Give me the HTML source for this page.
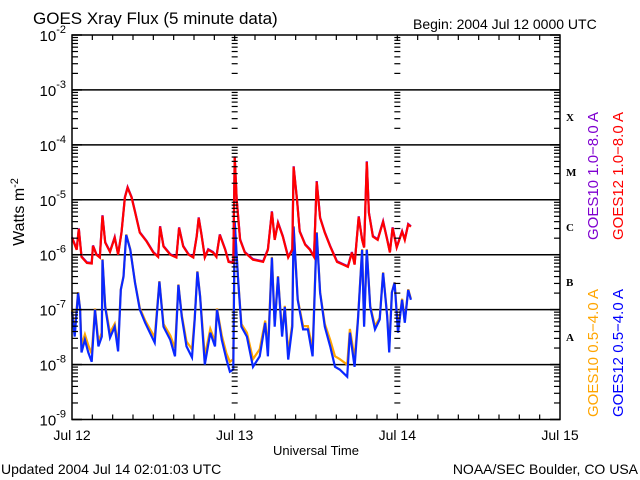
<!DOCTYPE html>
<html><head><meta charset="utf-8"><style>
html,body{margin:0;padding:0;background:#fff;}
svg{display:block;font-family:"Liberation Sans",sans-serif;}
</style></head><body>
<svg id="chart" width="640" height="480" viewBox="0 0 640 480" xmlns="http://www.w3.org/2000/svg">
<rect width="640" height="480" fill="#fff"/>
<text x="33" y="24" font-size="17">GOES Xray Flux (5 minute data)</text>
<text x="413" y="29" font-size="14">Begin:  2004 Jul 12 0000 UTC</text>
<text transform="translate(24,212) rotate(-90)" text-anchor="middle" font-size="16">Watts m<tspan dy="-6" font-size="11">-2</tspan></text>
<text x="316" y="455" text-anchor="middle" font-size="13">Universal Time</text>
<text x="1" y="474" font-size="14">Updated 2004 Jul 14 02:01:03 UTC</text>
<text x="638" y="474" text-anchor="end" font-size="14">NOAA/SEC Boulder, CO USA</text>
<g id="grid"></g>
<g id="series"></g>
<rect x="72" y="35" width="488" height="384.5" fill="none" stroke="#000" stroke-width="1.5"/>
<g id="axes"></g>
<g font-family="Liberation Serif,serif" font-weight="bold" font-size="11">
<text x="566" y="121">X</text>
<text x="566" y="176">M</text>
<text x="566" y="231">C</text>
<text x="566" y="286">B</text>
<text x="566" y="341">A</text>
</g>
<text transform="translate(598,240) rotate(-90)" font-size="15" fill="#7f00d0">GOES10 1.0−8.0 A</text>
<text transform="translate(623,240) rotate(-90)" font-size="15" fill="#ff0000">GOES12 1.0−8.0 A</text>
<text transform="translate(598,417) rotate(-90)" font-size="15" fill="#ffa500">GOES10 0.5−4.0 A</text>
<text transform="translate(623,417) rotate(-90)" font-size="15" fill="#0000ff">GOES12 0.5−4.0 A</text>
</svg>
<script>
// hours since 2004 Jul 12 00:00 UTC, values are log10 flux (W m^-2)
const longHours = [0,0.7,1.0,1.4,2.2,2.9,3.1,3.6,4.1,4.5,4.9,5.6,6.3,6.8,7.3,7.8,8.2,8.8,9.3,10.0,11.0,12.0,12.7,13.0,13.5,14.5,15.4,15.8,16.4,17.2,17.9,18.4,18.7,19.1,19.6,20.1,20.8,21.3,21.8,22.6,23.1,23.8,24.0,24.3,24.8,25.5,26.7,28.2,28.9,29.5,29.9,30.4,31.1,31.9,32.5,32.7,33.2,33.6,34.4,35.1,35.7,36.1,36.6,37.3,38.1,39.1,40.0,40.7,41.3,41.7,42.3,42.8,43.1,43.5,43.8,44.4,45.1,45.9,46.5,46.9,47.3,47.9,48.7,49.1,49.6,50.0];
const goes12Long = [-5.69,-5.91,-5.53,-6.04,-6.15,-6.16,-5.84,-6.0,-6.05,-5.29,-5.78,-5.95,-5.69,-6.0,-5.6,-4.96,-4.78,-4.96,-5.22,-5.6,-5.76,-5.96,-6.04,-5.49,-5.85,-6.0,-6.05,-5.51,-5.85,-6.0,-6.05,-5.67,-5.33,-5.64,-6.05,-5.91,-5.96,-6.04,-5.64,-5.91,-6.13,-6.15,-4.22,-5.0,-5.73,-5.96,-6.09,-6.13,-5.91,-5.22,-5.73,-5.42,-5.67,-6.05,-5.91,-4.4,-5.0,-5.58,-5.82,-5.91,-6.04,-4.67,-5.33,-5.6,-5.85,-6.13,-6.18,-6.22,-5.96,-6.18,-5.31,-5.73,-5.87,-4.31,-5.24,-5.67,-5.73,-5.4,-5.73,-5.96,-5.51,-5.87,-5.58,-5.73,-5.45,-5.49];
const goes10Long = [-5.68,-5.9,-5.52,-6.03,-6.14,-6.15,-5.83,-5.99,-6.04,-5.28,-5.77,-5.94,-5.68,-5.99,-5.59,-4.95,-4.77,-4.95,-5.21,-5.59,-5.75,-5.95,-6.03,-5.48,-5.84,-5.99,-6.04,-5.5,-5.84,-5.99,-6.04,-5.66,-5.32,-5.63,-6.04,-5.9,-5.95,-6.03,-5.63,-5.9,-6.12,-6.14,-4.21,-4.99,-5.72,-5.95,-6.08,-6.12,-5.9,-5.21,-5.72,-5.41,-5.66,-6.04,-5.9,-4.39,-4.99,-5.57,-5.81,-5.9,-6.03,-4.66,-5.32,-5.59,-5.84,-6.12,-6.17,-6.21,-5.95,-6.17,-5.3,-5.72,-5.86,-4.3,-5.23,-5.66,-5.72,-5.39,-5.72,-5.95,-5.5,-5.86,-5.57,-5.72,-5.44,-5.48];
const shortHours = [0,0.4,0.9,1.2,1.4,1.9,2.4,2.9,3.4,3.9,4.4,4.5,4.9,5.6,6.3,6.8,7.2,7.6,8.0,8.6,9.3,10.0,10.8,11.5,12.2,12.9,13.5,14.5,15.2,15.7,16.2,16.9,17.7,18.1,18.5,18.9,19.6,20.4,21.1,21.4,22.1,22.8,23.3,23.8,24.0,24.5,25.0,25.8,26.7,27.7,28.5,28.9,29.5,29.9,30.4,31.0,31.4,31.9,32.5,32.7,33.3,34.1,34.8,35.5,36.1,36.6,37.3,38.1,38.8,39.5,40.6,41.0,41.7,42.2,42.8,43.1,43.5,44.0,44.7,45.4,45.9,46.5,46.8,47.2,47.6,48.1,48.7,49.1,49.6,50.0];
const goes12Short = [-7.04,-7.49,-6.69,-7.0,-7.78,-7.55,-7.78,-7.95,-7.0,-7.67,-7.49,-6.09,-6.95,-7.51,-7.31,-7.76,-6.64,-6.4,-5.64,-5.91,-6.51,-7.0,-7.24,-7.42,-7.6,-6.49,-7.31,-7.55,-7.85,-6.55,-7.13,-7.67,-7.87,-7.18,-6.31,-6.76,-8.0,-7.42,-7.67,-7.0,-7.55,-7.91,-8.13,-8.09,-5.4,-6.45,-7.31,-7.49,-8.04,-7.85,-7.24,-7.85,-6.05,-7.31,-6.4,-7.49,-6.95,-7.91,-7.31,-5.49,-6.82,-7.36,-7.36,-7.85,-5.6,-6.69,-7.31,-7.67,-8.04,-8.09,-8.22,-7.42,-8.04,-7.18,-5.91,-7.31,-5.91,-6.95,-7.36,-7.18,-6.33,-7.13,-7.78,-6.69,-6.51,-7.42,-6.82,-7.24,-6.64,-6.82];
const goes10Short = [-7.0,-7.4,-6.68,-6.98,-7.65,-7.45,-7.65,-7.8,-6.98,-7.58,-7.42,-6.08,-6.93,-7.42,-7.26,-7.65,-6.63,-6.39,-5.63,-5.9,-6.5,-6.97,-7.2,-7.35,-7.5,-6.48,-7.26,-7.47,-7.7,-6.54,-7.1,-7.58,-7.72,-7.15,-6.3,-6.75,-7.85,-7.35,-7.58,-6.98,-7.47,-7.8,-7.95,-7.9,-5.39,-6.44,-7.26,-7.42,-7.9,-7.72,-7.2,-7.72,-6.04,-7.26,-6.39,-7.42,-6.93,-7.78,-7.26,-5.48,-6.8,-7.3,-7.3,-7.72,-5.59,-6.68,-7.26,-7.55,-7.85,-7.9,-8.0,-7.35,-7.88,-7.15,-5.9,-7.26,-5.9,-6.93,-7.3,-7.15,-6.32,-7.1,-7.68,-6.68,-6.5,-7.35,-6.8,-7.2,-6.63,-6.8];
const decadeExps = [-9,-8,-7,-6,-5,-4,-3,-2];
const dayLabels = ["Jul 12","Jul 13","Jul 14","Jul 15"];

const NS='http://www.w3.org/2000/svg';
const X0=72,X1=560,Y0=35,Y1=419.5;
const xScale=h=>X0+(X1-X0)*h/72;
const yScale=e=>Y1-(Y1-Y0)*(e+9)/7;
function mk(tag,attrs,parent){const el=document.createElementNS(NS,tag);for(const k in attrs)el.setAttribute(k,attrs[k]);parent.appendChild(el);return el;}
const grid=document.getElementById('grid'),axes=document.getElementById('axes'),series=document.getElementById('series');

decadeExps.forEach(e=>{
  const y=yScale(e);
  if(e>-9&&e<-2){const l=mk('line',{x1:X0,x2:X1,y1:y,y2:y,stroke:'#000','stroke-width':1.5},grid);
    
    }
  const t=mk('text',{x:66,y:y+6,'text-anchor':'end','font-size':15},axes);
  
  
  t.textContent='10';
  const s=mk('tspan',{dy:-8,'font-size':11},t);s.textContent=String(e);
  if(e<-2){for(let m=2;m<=9;m++){const yy=y-(Y1-Y0)/7*Math.log10(m);
    [[X0,X0+6],[X1-6,X1],[xScale(24)-3,xScale(24)+3],[xScale(48)-3,xScale(48)+3]].forEach(p=>{
      const tk=mk('line',{x1:p[0],x2:p[1],y1:yy,y2:yy,stroke:'#000','stroke-width':1.2},axes);
      
      });}}
  [[X0,X0+10],[X1-10,X1]].forEach(p=>{const tk=mk('line',{x1:p[0],x2:p[1],y1:y,y2:y,stroke:'#000','stroke-width':1.5},axes);
    
    });
});
for(let h=3;h<72;h+=3){const x=xScale(h);const len=h%24===0?6:5;
  [[Y0,Y0+len],[Y1-len,Y1]].forEach(p=>{const tk=mk('line',{x1:x,x2:x,y1:p[0],y2:p[1],stroke:'#000','stroke-width':1.2},axes);
    
    });}
dayLabels.forEach((d,i)=>{const t=mk('text',{x:xScale(i*24),y:440,'text-anchor':'middle','font-size':14},axes);
  
  
  t.textContent=d;});

function drawLine(hours,vals,color,name){
  let d='';hours.forEach((h,i)=>{d+=(i?'L':'M')+xScale(h).toFixed(1)+','+yScale(vals[i]).toFixed(1);});
  const p=mk('path',{d:d,fill:'none',stroke:color,'stroke-width':2.2,'stroke-linejoin':'miter'},series);
  
  
}
drawLine(shortHours,goes10Short,'#ffa500','line-goes10-short');
drawLine(shortHours,goes12Short,'#0a28ff','line-goes12-short');
drawLine(longHours,goes10Long,'#7f00d0','line-goes10-long');
drawLine(longHours,goes12Long,'#ff0000','line-goes12-long');
</script>
</body></html>
